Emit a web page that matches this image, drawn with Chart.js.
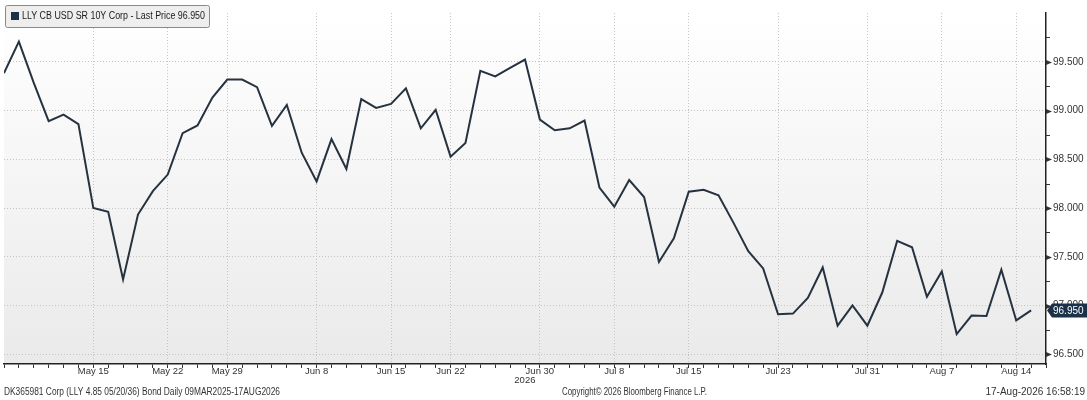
<!DOCTYPE html>
<html>
<head>
<meta charset="utf-8">
<script src="https://cdn.jsdelivr.net/npm/chart.js@4.4.1/dist/chart.umd.min.js"></script>
<style>
  html, body { margin: 0; padding: 0; background: #fff; }
  #wrap { width: 1087px; height: 400px; position: relative; }
</style>
</head>
<body>
<div id="wrap"><canvas id="bondChart" width="1087" height="400"></canvas></div>
<script>
// trading days shown on the chart
const dates = [
    'May 7', 'May 8', 'May 11', 'May 12', 'May 13', 'May 14', 'May 15', 'May 18', 'May 19', 'May 20',
    'May 21', 'May 22', 'May 26', 'May 27', 'May 28', 'May 29', 'Jun 1', 'Jun 2', 'Jun 3', 'Jun 4',
    'Jun 5', 'Jun 8', 'Jun 9', 'Jun 10', 'Jun 11', 'Jun 12', 'Jun 15', 'Jun 16', 'Jun 17', 'Jun 18',
    'Jun 22', 'Jun 23', 'Jun 24', 'Jun 25', 'Jun 26', 'Jun 29', 'Jun 30', 'Jul 1', 'Jul 2', 'Jul 6',
    'Jul 7', 'Jul 8', 'Jul 9', 'Jul 10', 'Jul 13', 'Jul 14', 'Jul 15', 'Jul 16', 'Jul 17', 'Jul 20',
    'Jul 21', 'Jul 22', 'Jul 23', 'Jul 24', 'Jul 27', 'Jul 28', 'Jul 29', 'Jul 30', 'Jul 31', 'Aug 3',
    'Aug 4', 'Aug 5', 'Aug 6', 'Aug 7', 'Aug 10', 'Aug 11', 'Aug 12', 'Aug 13', 'Aug 14', 'Aug 17'
];

const lastPrices = [
    99.383, 99.707, 99.283, 98.890, 98.957, 98.860, 98.000, 97.960, 97.267, 97.933,
    98.173, 98.343, 98.767, 98.847, 99.133, 99.317, 99.317, 99.240, 98.843, 99.057,
    98.567, 98.273, 98.707, 98.400, 99.117, 99.027, 99.067, 99.227, 98.817, 99.007,
    98.527, 98.667, 99.407, 99.350, 99.437, 99.523, 98.907, 98.797, 98.817, 98.897,
    98.210, 98.013, 98.287, 98.113, 97.447, 97.690, 98.167, 98.187, 98.130, 97.850,
    97.557, 97.380, 96.910, 96.917, 97.077, 97.390, 96.793, 97.000, 96.793, 97.133,
    97.663, 97.597, 97.090, 97.350, 96.707, 96.897, 96.893, 97.367, 96.847, 96.950
];

// labelled dates on the time axis
const dateTicks = ['May 15', 'May 22', 'May 29', 'Jun 8', 'Jun 15', 'Jun 22', 'Jun 30',
    'Jul 8', 'Jul 15', 'Jul 23', 'Jul 31', 'Aug 7', 'Aug 14'];

// price axis
const yMin = 96.4;
const yMax = 100.0;
const yStep = 0.5;
const yLabelTop = 99.5;

const seriesName = 'LLY CB USD SR 10Y Corp - Last Price';
const footerLeft = 'DK365981 Corp (LLY 4.85 05/20/36) Bond Daily 09MAR2025-17AUG2026';
const footerMid = 'Copyright\u00A9 2026 Bloomberg Finance L.P.';
const footerRight = '17-Aug-2026 16:58:19';

const FONT = '"Liberation Sans", Arial, sans-serif';
const LINE_COLOR = '#26323f';
const NAVY = '#1b3149';
const GRID = '#c4c4c4';

const lastValue = lastPrices[lastPrices.length - 1];

// draws text squeezed horizontally to a given width (the original uses a narrow UI font)
function squeezeText(ctx, text, x, y, width, align) {
    const w = ctx.measureText(text).width;
    const sx = Math.min(1, width / w);
    ctx.save();
    ctx.textAlign = 'left';
    let left = x;
    if (align === 'right') left = x - w * sx;
    ctx.translate(left, y);
    ctx.scale(sx, 1);
    ctx.fillText(text, 0, 0);
    ctx.restore();
}

const bloombergDecor = {
    id: 'bloombergDecor',
    beforeDraw(chart) {
        const { ctx, chartArea: a } = chart;
        const g = ctx.createLinearGradient(0, a.top, 0, a.bottom);
        g.addColorStop(0, '#ffffff');
        g.addColorStop(1, '#eaeaea');
        ctx.save();
        ctx.fillStyle = g;
        ctx.fillRect(a.left, a.top, a.right - a.left, a.bottom - a.top);
        ctx.restore();
    },
    afterDraw(chart) {
        const { ctx, chartArea: a } = chart;
        const y = chart.scales.y;
        const x = chart.scales.x;
        ctx.save();

        // y axis marks: arrow heads on majors, short lines on minors
        ctx.fillStyle = '#333';
        ctx.strokeStyle = '#333';
        ctx.lineWidth = 1;
        for (let v = 96.5; v < yMax - 1e-9; v += 0.25) {
            const py = Math.round(y.getPixelForValue(v)) + 0.5;
            const major = Math.abs((v * 2) - Math.round(v * 2)) < 1e-6;
            if (major) {
                ctx.beginPath();
                ctx.moveTo(a.right, py - 2.5);
                ctx.lineTo(a.right + 6, py);
                ctx.lineTo(a.right, py + 2.5);
                ctx.closePath();
                ctx.fill();
            } else {
                ctx.beginPath();
                ctx.moveTo(a.right, py);
                ctx.lineTo(a.right + 4, py);
                ctx.stroke();
            }
        }

        // last price tag
        const ly = y.getPixelForValue(lastValue);
        ctx.fillStyle = NAVY;
        ctx.beginPath();
        ctx.moveTo(a.right + 1, ly);
        ctx.lineTo(a.right + 6, ly - 7);
        ctx.lineTo(1087, ly - 7);
        ctx.lineTo(1087, ly + 7);
        ctx.lineTo(a.right + 6, ly + 7);
        ctx.closePath();
        ctx.fill();
        ctx.fillStyle = '#ffffff';
        ctx.font = '10px ' + FONT;
        ctx.textBaseline = 'middle';
        ctx.textAlign = 'left';
        ctx.fillText(lastValue.toFixed(3), a.right + 7, ly + 0.5);

        // legend box
        ctx.fillStyle = '#eeeeee';
        ctx.strokeStyle = '#8a8a8a';
        ctx.beginPath();
        ctx.roundRect(5.5, 5.5, 204, 22, 2);
        ctx.fill();
        ctx.stroke();
        ctx.fillStyle = NAVY;
        ctx.fillRect(11, 12, 8, 8);
        ctx.fillStyle = '#1a1a1a';
        ctx.font = '10px ' + FONT;
        squeezeText(ctx, seriesName + ' ' + lastValue.toFixed(3), 22, 16.5, 183, 'left');

        // year under the Jun 30 label
        const jun30 = x.getPixelForValue(dates.indexOf('Jun 30'));
        ctx.fillStyle = '#333';
        ctx.font = '9.5px ' + FONT;
        ctx.textAlign = 'center';
        ctx.fillText('2026', jun30 - 15, 380);

        // footer
        ctx.font = '10px ' + FONT;
        squeezeText(ctx, footerLeft, 4, 392, 276, 'left');
        squeezeText(ctx, footerMid, 562, 392, 145, 'left');
        squeezeText(ctx, footerRight, 1085, 392, 109, 'right');
        ctx.restore();
    }
};

new Chart(document.getElementById('bondChart').getContext('2d'), {
    type: 'line',
    data: {
        datasets: [{
            label: seriesName,
            data: lastPrices.map((p, i) => ({ x: i, y: p })),
            borderColor: LINE_COLOR,
            borderWidth: 2,
            pointRadius: 0,
            tension: 0,
            fill: false
        }]
    },
    options: {
        responsive: false,
        animation: false,
        devicePixelRatio: 1,
        layout: { padding: { left: 4, top: 4, right: 0, bottom: 0 } },
        plugins: {
            legend: { display: false },
            tooltip: { enabled: false }
        },
        scales: {
            x: {
                type: 'linear',
                min: 0,
                max: dates.length,
                afterFit: (s) => { s.height = 36; },
                border: { display: true, color: '#222', width: 1.5, dash: [1, 2] },
                grid: {
                    color: (c) => (c.tick && dateTicks.includes(dates[c.tick.value]) ? GRID : 'transparent'),
                    tickColor: '#333',
                    tickLength: 4,
                    drawTicks: true
                },
                ticks: {
                    stepSize: 1,
                    autoSkip: false,
                    maxRotation: 0,
                    padding: -2,
                    color: '#333',
                    font: { family: FONT, size: 9.5 },
                    callback: (v) => (dateTicks.includes(dates[v]) ? dates[v] : '')
                }
            },
            y: {
                position: 'right',
                min: yMin,
                max: yMax,
                afterFit: (s) => { s.width = 41; },
                afterBuildTicks: (s) => { s.ticks = s.ticks.filter((t) => t.value <= yLabelTop + 1e-9); },
                border: { display: true, color: '#222', width: 1.5, dash: [1, 2] },
                grid: { color: GRID, drawTicks: false },
                ticks: {
                    stepSize: yStep,
                    includeBounds: false,
                    padding: 7,
                    color: '#333',
                    font: { family: FONT, size: 10 },
                    callback: (v) => v.toFixed(3)
                }
            }
        }
    },
    plugins: [bloombergDecor]
});
</script>
</body>
</html>
